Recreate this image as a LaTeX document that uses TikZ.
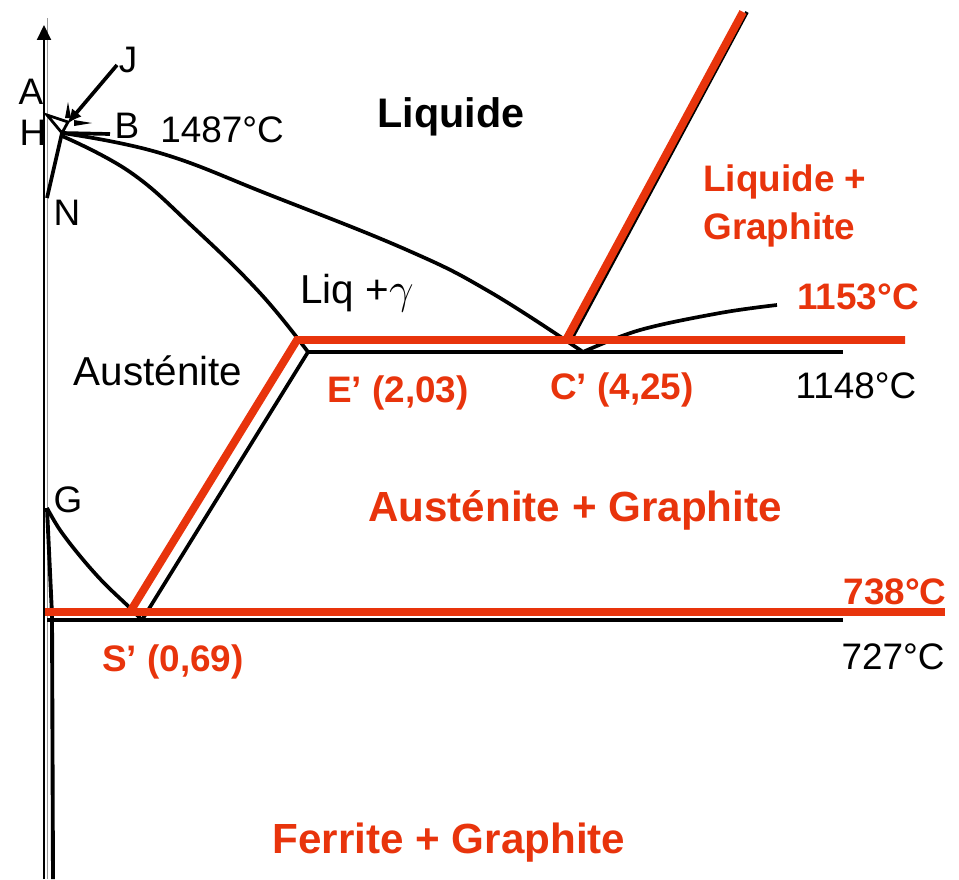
\documentclass[tikz,border=0pt]{standalone}
\usepackage{fontspec}
\setmainfont{Liberation Sans}
\usetikzlibrary{arrows.meta}
\definecolor{FCRed}{HTML}{E8340C}
\definecolor{FCGrey}{HTML}{9A9A9A}
\tikzset{
  stableline/.style={FCRed,line width=4.5pt},
  metaline/.style={black,line width=2.1pt},
  lab/.style={inner sep=0pt,font=\fontsize{21}{24}\selectfont},
  midlab/.style={inner sep=0pt,font=\fontsize{23}{26}\selectfont},
  redlab/.style={inner sep=0pt,FCRed,font=\fontsize{21}{24}\selectfont\bfseries},
  biglab/.style={inner sep=0pt,FCRed,font=\fontsize{24}{28}\selectfont\bfseries},
}

\begin{document}
\begin{tikzpicture}[x=0.02cm,y=-0.02cm]
\path[use as bounding box] (0,0) rectangle (959,879);
% points
\coordinate (Hpt) at (47,115);
\coordinate (Ppk) at (62,133);
\coordinate (Gpt) at (47,508);
\coordinate (Emeta) at (308,352);
\coordinate (Cmeta) at (583,352);
\coordinate (Smeta) at (142,620);
\coordinate (Estab) at (297,340);
\coordinate (Cstab) at (566,340);
\coordinate (Sstab) at (130,612);
% axis
\draw[FCGrey,line width=1pt] (47.5,879) -- (47.5,18);
\draw[line width=1.2pt,-{Triangle[length=0.3cm,width=0.28cm]}] (44,879) -- (44,25);
% delta corner
\draw[black,line width=1.6pt] (Hpt) -- (68,122) -- (Ppk) -- cycle;
\draw[metaline] (47,198) -- (Ppk) -- (110,134);
\draw[metaline,-{Latex[length=0.3cm,width=0.25cm]}] (117,65) -- (67,124);
\fill (65,118) -- (68,102) -- (71,118) -- cycle;
\fill (74,120) -- (92,123) -- (74,126) -- cycle;
% liquidus, solidus
\draw[metaline] plot[smooth,tension=0.7] coordinates {(Ppk) (160,153) (270,195) (407,250) (490,292) (Cmeta)};
\draw[metaline] plot[smooth,tension=0.7] coordinates {(62,136) (130,172) (193,227) (260,293) (Emeta)};
\draw[metaline] plot[smooth,tension=0.6] coordinates {(Cmeta) (640,330) (720,313) (777,305)};
\draw[metaline] (571,340) -- (747,12);
% gamma / alpha
\draw[metaline] plot[smooth,tension=0.6] coordinates {(Gpt) (60,530) (80,556) (103,582) (128,606) (Smeta)};
\draw[black,line width=2.2pt] (Gpt) -- (52,615) -- (53,879);
% metastable lines
\draw[metaline] (Emeta) -- (843,352);
\draw[metaline] (Emeta) -- (Smeta);
\draw[metaline] (47,620) -- (843,620);
% stable lines
\draw[stableline,line join=miter] (Sstab) -- (Estab) -- (905,340);
\draw[stableline] (Cstab) -- (743,12);
\draw[stableline] (45,612) -- (945,612);
% labels
\node[lab] (labA) at (31,92) {A};
\node[lab] (labH) at (33,133) {H};
\node[lab] (labJ) at (128,60) {J};
\node[lab] (labB) at (127,126) {B};
\node[lab] (labN) at (67,213) {N};
\node[lab] (labG) at (68,500) {G};
\node[lab] (t1487) at (222,130) {1487°C};
\node[midlab,font=\fontsize{23.5}{26}\selectfont\bfseries] (liq) at (451,117) {Liquide};
\node[midlab] (liqgam) at (357,293) {Liq +$\gamma$};
\node[midlab] (aust) at (158,371) {Austénite};
\node[redlab,align=left,anchor=west] (liqgr) at (703,206) {Liquide +\\[0.1cm]Graphite};
\node[redlab] (t1153) at (858,297) {1153°C};
\node[lab] (t1148) at (856,386) {1148°C};
\node[redlab] (Elab) at (398,393) {E’ (2,03)};
\node[redlab] (Clab) at (622,390) {C’ (4,25)};
\node[biglab] (austgr) at (575,510) {Austénite + Graphite};
\node[redlab] (t738) at (895,592) {738°C};
\node[lab] (t727) at (893,657) {727°C};
\node[redlab] (Slab) at (173,662) {S’ (0,69)};
\node[biglab] (fergr) at (449,843) {Ferrite + Graphite};
\end{tikzpicture}
\end{document}
